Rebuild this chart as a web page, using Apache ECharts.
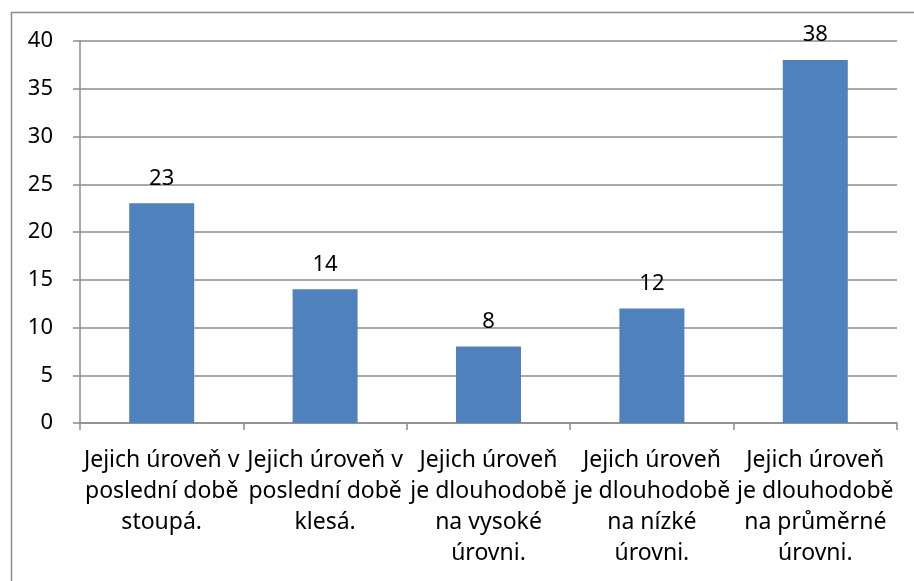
<!DOCTYPE html>
<html><head><meta charset="utf-8">
<script src="https://cdn.jsdelivr.net/npm/echarts@6/dist/echarts.min.js"></script>
<style>html,body{margin:0;padding:0;background:#fff}#c{width:914px;height:581px}</style>
</head><body><div id="c"></div>
<script>
const categories = [
  "Jejich úroveň v\nposlední době\nstoupá.",
  "Jejich úroveň v\nposlední době\nklesá.",
  "Jejich úroveň\nje dlouhodobě\nna vysoké\núrovni.",
  "Jejich úroveň\nje dlouhodobě\nna nízké\núrovni.",
  "Jejich úroveň\nje dlouhodobě\nna průměrné\núrovni."
];
const values = [23, 14, 8, 12, 38];
const yTicks = { min: 0, max: 40, interval: 5 };

const chart = echarts.init(document.getElementById('c'), null, {renderer: 'canvas'});
const font = "'Noto Sans', sans-serif";
chart.setOption({
  animation: false,
  graphic: [{
    type: 'rect', shape: {x: 11.5, y: 12.5, width: 940, height: 600},
    style: {fill: 'none', stroke: '#8c8c8c', lineWidth: 1.5}, silent: true, z: -1
  }],
  grid: {left: 80, right: 17, top: 41, bottom: 158, containLabel: false},
  xAxis: {
    type: 'category', data: categories,
    axisLine: {lineStyle: {color: '#8c8c8c', width: 1.5}},
    axisTick: {show: true, length: 7, alignWithLabel: false, lineStyle: {color: '#8c8c8c', width: 1.5}},
    axisLabel: {interval: 0, color: '#000', fontFamily: font, fontSize: 23, lineHeight: 31, margin: 22}
  },
  yAxis: {
    type: 'value', min: yTicks.min, max: yTicks.max, interval: yTicks.interval,
    axisLine: {show: true, lineStyle: {color: '#8c8c8c', width: 1.5}},
    axisTick: {show: true, length: 7, lineStyle: {color: '#8c8c8c', width: 1.5}},
    splitLine: {show: true, lineStyle: {color: '#8c8c8c', width: 1.5}},
    axisLabel: {color: '#000', fontFamily: font, fontSize: 22, margin: 27}
  },
  series: [{
    type: 'bar', data: values, barWidth: 65,
    itemStyle: {color: '#4F81BD'},
    label: {show: true, position: 'top', distance: 14, color: '#000', fontFamily: font, fontSize: 22}
  }]
});
</script></body></html>
